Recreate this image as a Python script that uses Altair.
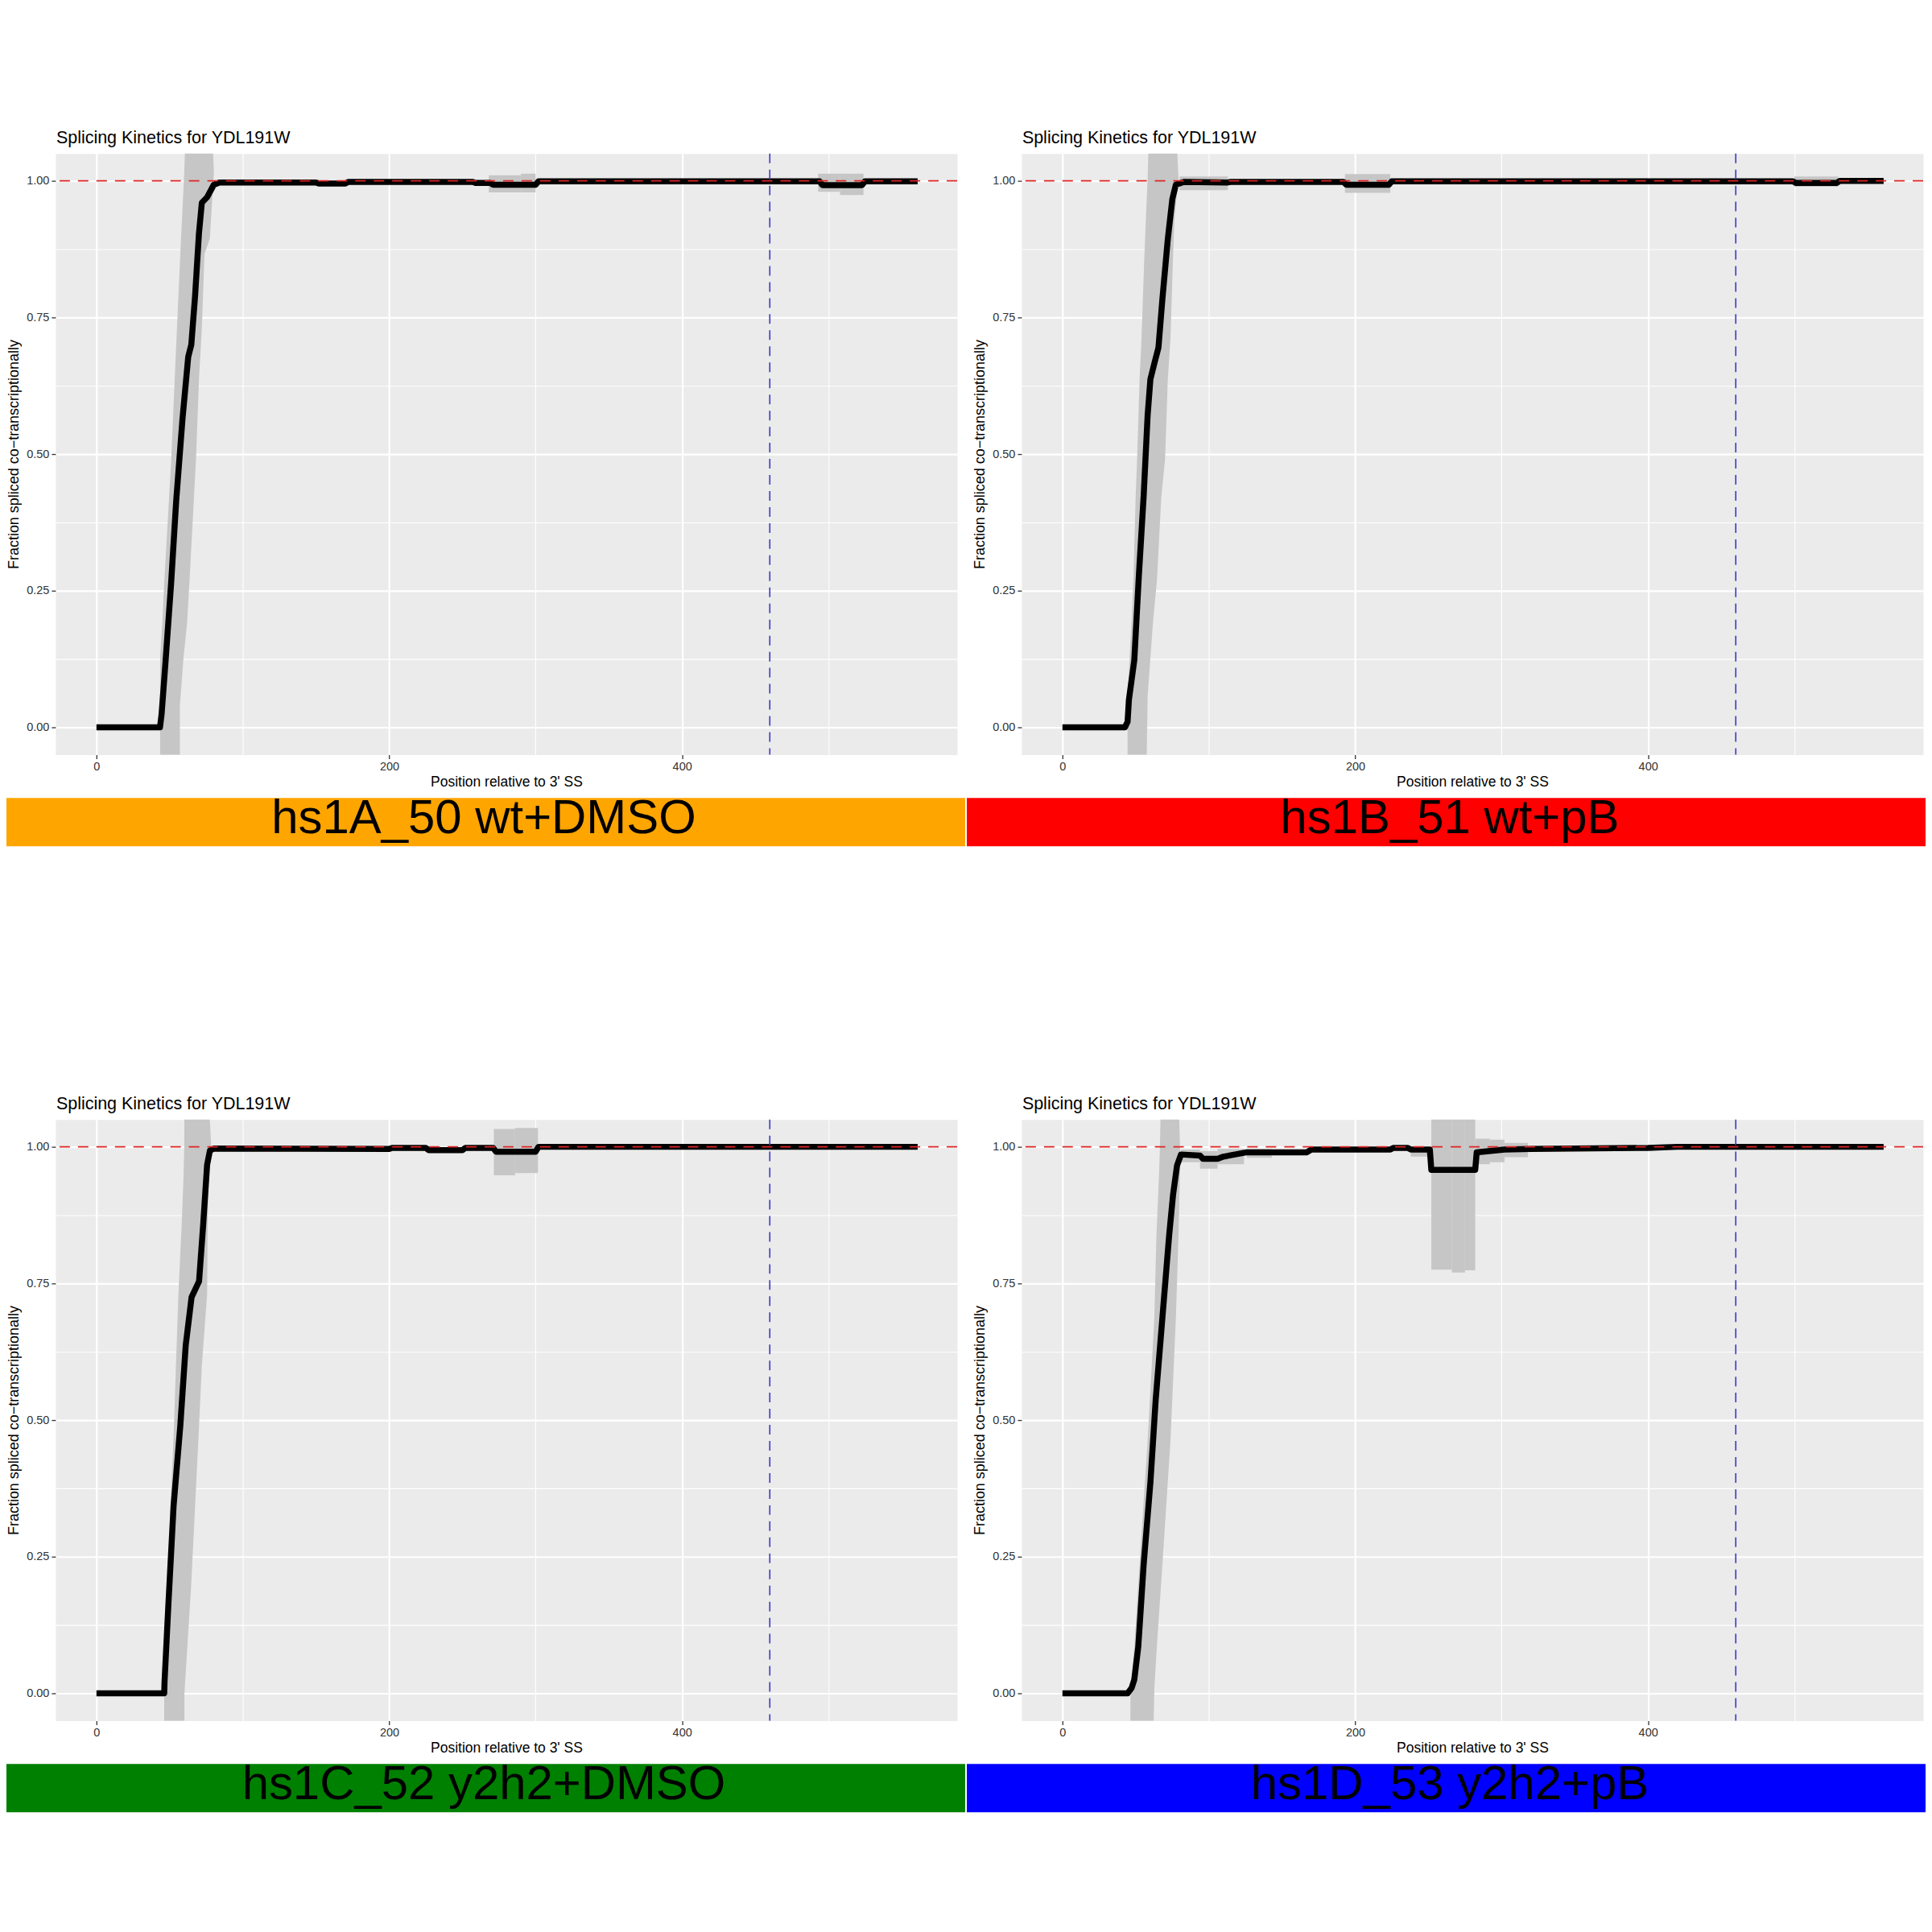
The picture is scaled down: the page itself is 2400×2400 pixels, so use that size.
import altair as alt
import pandas as pd

FONT = "Liberation Sans"
TITLE = "Splicing Kinetics for YDL191W"
X_TITLE = "Position relative to 3' SS"
Y_TITLE = "Fraction spliced co\u2212transcriptionally"

X_DOMAIN = [-28, 588]
Y_DOMAIN = [-0.05, 1.05]
X_GRID = [0, 100, 200, 300, 400, 500]
Y_GRID = [0, 0.125, 0.25, 0.375, 0.5, 0.625, 0.75, 0.875, 1.0]
REF_Y = 1.0
REF_X = 460

labels = ["hs1A_50 wt+DMSO", "hs1B_51 wt+pB", "hs1C_52 y2h2+DMSO", "hs1D_53 y2h2+pB"]
band_colors = ["#FFA500", "#FF0000", "#008000", "#0000FF"]

# ---------------- Panel A ----------------
a_line_x = [0, 43.4, 44.5, 47, 51, 54.5, 58.8, 62.7, 64.8, 67.4, 70, 72, 75.6, 80.2, 84,
            150, 152, 170, 172, 257, 259, 269, 271, 300, 302, 494, 496, 523, 525, 561]
a_line_y = [0, 0, 0.024, 0.113, 0.263, 0.415, 0.565, 0.678, 0.70, 0.79, 0.903, 0.96, 0.97, 0.993, 0.997,
            0.997, 0.995, 0.995, 0.998, 0.998, 0.996, 0.996, 0.993, 0.993, 0.999, 0.999, 0.992, 0.992, 0.999, 0.999]
a_rise_y = [-0.1, 0.04, 0.128, 0.19, 0.264, 0.415, 0.49, 0.64, 0.73, 0.866, 0.895, 1.016, 1.1]
a_rise_lo = [43.5, 43.5, 43.5, 45, 46.3, 49.5, 51.1, 53.5, 55, 57.3, 57.8, 60, 61]
a_rise_hi = [57, 57, 59.5, 61.9, 63.5, 66.5, 68, 70.1, 72, 73.8, 77.5, 80.2, 79]
a_rb_x1 = [268, 290, 493, 508]
a_rb_x2 = [290, 300, 508, 524]
a_rb_lo = [0.979, 0.979, 0.980, 0.974]
a_rb_hi = [1.010, 1.013, 1.013, 1.013]

# ---------------- Panel B ----------------
b_line_x = [0, 42.7, 44.5, 45.4, 49.1, 52.2, 55.5, 58.2, 60.1, 62.8, 65.6, 68.3, 72, 75.1, 77.5, 83,
            113, 115, 192, 194, 223, 225, 499, 501, 529, 531, 561]
b_line_y = [0, 0, 0.01, 0.05, 0.123, 0.277, 0.424, 0.571, 0.637, 0.666, 0.695, 0.784, 0.894, 0.967, 0.993, 0.998,
            0.997, 0.998, 0.998, 0.993, 0.993, 0.999, 0.999, 0.996, 0.996, 1.0, 1.0]
b_rise_y = [-0.1, 0.057, 0.197, 0.27, 0.42, 0.49, 0.637, 0.71, 0.857, 0.93, 1.004, 1.1]
b_rise_lo = [44.5, 44.5, 47.3, 48.5, 50, 51, 52.7, 54, 55.9, 57, 58.2, 59.2]
b_rise_hi = [57.3, 58.2, 62, 64.6, 67.5, 70.1, 72, 73.8, 75.5, 76.5, 79.3, 77.5]
b_rb_x1 = [80, 193, 500]
b_rb_x2 = [113, 224, 530]
b_rb_lo = [0.983, 0.978, 0.989]
b_rb_hi = [1.008, 1.0125, 1.008]

# ---------------- Panel C ----------------
c_line_x = [0, 46.3, 46.5, 49.1, 52.7, 57.3, 61, 65, 70.1, 72.9, 75.6, 77.5, 80.2,
            200, 202, 225, 227, 250, 252, 271, 273, 300, 302, 561]
c_line_y = [0, 0, 0.02, 0.16, 0.343, 0.49, 0.637, 0.725, 0.754, 0.857, 0.967, 0.993, 0.997,
            0.996, 0.998, 0.998, 0.994, 0.994, 0.998, 0.998, 0.991, 0.991, 1.0, 1.0]
c_rise_y = [-0.1, 0.0, 0.197, 0.343, 0.49, 0.6, 0.73, 0.857, 0.93, 1.0, 1.1]
c_rise_lo = [46.3, 46.3, 49.1, 50.6, 53, 54.3, 56, 58.2, 59.3, 60, 60.1]
c_rise_hi = [60.1, 60.1, 64.7, 67.4, 70.1, 72, 75.6, 76, 76.5, 78.4, 76.5]
c_rb_x1 = [271.5, 286]
c_rb_x2 = [286, 301.6]
c_rb_lo = [0.948, 0.952]
c_rb_hi = [1.0325, 1.0345]

# ---------------- Panel D ----------------
d_line_x = [0, 44.5, 47.3, 49.1, 51.8, 55.5, 60.1, 63.7, 68.3, 72.9, 75.6, 78.3, 81, 94, 96, 106, 110, 126,
            167, 170, 224, 226, 236, 238, 251, 252, 282, 283, 302, 320, 400, 420, 561]
d_line_y = [0, 0, 0.01, 0.025, 0.085, 0.236, 0.386, 0.537, 0.6875, 0.838, 0.913, 0.966, 0.986, 0.984, 0.978,
            0.978, 0.982, 0.990, 0.990, 0.995, 0.995, 0.998, 0.998, 0.995, 0.995, 0.958, 0.958, 0.990, 0.995,
            0.996, 0.998, 1.0, 1.0]
d_rise_y = [-0.1, 0.01, 0.085, 0.236, 0.462, 0.6875, 0.838, 0.95, 0.99, 1.1]
d_rise_lo = [46.3, 46.5, 49.1, 52.7, 58.2, 62.8, 64.2, 66, 66.5, 67.4]
d_rise_hi = [61.9, 62.8, 64.5, 68.3, 73.8, 77.5, 79.3, 80.2, 80.4, 79.3]
d_rb_x1 = [81, 94, 106, 126, 238, 252, 266, 275, 282, 292, 302]
d_rb_x2 = [94, 106, 124, 143, 252, 266, 275, 282, 292, 302, 318]
d_rb_lo = [0.972, 0.960, 0.968, 0.980, 0.982, 0.775, 0.770, 0.774, 0.968, 0.972, 0.981]
d_rb_hi = [0.995, 0.992, 0.996, 0.996, 0.997, 1.1, 1.1, 1.1, 1.015, 1.013, 1.007]

PLOT_W = 1122
PLOT_H = 748
RIBBON = "#C6C6C6"


def make_panel(line_x, line_y, rise_y, rise_lo, rise_hi, rb_x1, rb_x2, rb_lo, rb_hi, label, color):
    xs = alt.Scale(domain=X_DOMAIN, nice=False, zero=False)
    ys = alt.Scale(domain=Y_DOMAIN, nice=False, zero=False)
    x_axis = alt.Axis(
        values=X_GRID, format="d",
        labelExpr="datum.value % 200 === 0 ? datum.label : ''",
        domain=False, labelOverlap=False, labelFlush=False,
        tickSize=5, tickWidth=1.3, tickColor="#333333",
        tickOpacity={"condition": {"test": "datum.value % 200 !== 0", "value": 0}, "value": 1},
        gridColor="white",
        gridWidth={"condition": {"test": "datum.value % 200 === 0", "value": 2.2}, "value": 1.1},
        labelFont=FONT, labelFontSize=14.5, labelColor="#333333", labelPadding=3,
        title=X_TITLE, titleFont=FONT, titleFontSize=17.5, titleFontWeight="normal",
        titleColor="black", titleX=PLOT_W / 2, titleY=25, titleBaseline="top",
    )
    y_axis = alt.Axis(
        values=Y_GRID, format=".2f",
        labelExpr="(datum.value * 4) % 1 === 0 ? datum.label : ''",
        domain=False, labelOverlap=False, labelFlush=False,
        tickSize=5, tickWidth=1.3, tickColor="#333333",
        tickOpacity={"condition": {"test": "(datum.value * 4) % 1 !== 0", "value": 0}, "value": 1},
        gridColor="white",
        gridWidth={"condition": {"test": "(datum.value * 4) % 1 === 0", "value": 2.2}, "value": 1.1},
        labelFont=FONT, labelFontSize=14.5, labelColor="#333333", labelPadding=3,
        title=Y_TITLE, titleFont=FONT, titleFontSize=18, titleFontWeight="normal",
        titleColor="black", titleAngle=270, titleX=-51, titleY=PLOT_H / 2,
        titleBaseline="middle", titleAlign="center",
    )

    line_df = pd.DataFrame({"x": line_x, "y": line_y, "i": list(range(len(line_x)))})
    rise_df = pd.DataFrame({"y": rise_y, "lo": rise_lo, "hi": rise_hi})
    rb_df = pd.DataFrame({"x1": rb_x1, "x2": rb_x2, "lo": rb_lo, "hi": rb_hi})

    rise = alt.Chart(rise_df).mark_area(orient="horizontal", color=RIBBON, clip=True).encode(
        y=alt.Y("y:Q", scale=ys, axis=y_axis),
        x=alt.X("lo:Q", scale=xs, axis=x_axis),
        x2="hi:Q",
    )
    plateau = alt.Chart(rb_df).mark_rect(color=RIBBON, clip=True).encode(
        x=alt.X("x1:Q", scale=xs, axis=x_axis),
        x2="x2:Q",
        y=alt.Y("lo:Q", scale=ys, axis=y_axis),
        y2="hi:Q",
    )
    line = alt.Chart(line_df).mark_line(color="black", strokeWidth=7.5, clip=True,
                                        strokeJoin="round", strokeCap="butt").encode(
        x=alt.X("x:Q", scale=xs, axis=x_axis),
        y=alt.Y("y:Q", scale=ys, axis=y_axis),
        order="i:Q",
    )
    hline = alt.Chart(pd.DataFrame({"v": [REF_Y]})).mark_rule(
        color="#E02424", strokeWidth=1.8, strokeDash=[13, 10]).encode(
        y=alt.Y("v:Q", scale=ys, axis=y_axis))
    vline = alt.Chart(pd.DataFrame({"v": [REF_X]})).mark_rule(
        color="#3838C8", strokeWidth=1.6, strokeDash=[12, 8]).encode(
        x=alt.X("v:Q", scale=xs, axis=x_axis))

    title = alt.Chart(pd.DataFrame({"t": [TITLE]})).mark_text(
        align="left", baseline="alphabetic", font=FONT, fontSize=21.5, color="black").encode(
        x=alt.value(1), y=alt.value(-13), text="t:N")
    band = alt.Chart(pd.DataFrame({"c": [color]})).mark_rect(color=color).encode(
        x=alt.value(-68), x2=alt.value(1132), y=alt.value(802), y2=alt.value(862))
    band_text = alt.Chart(pd.DataFrame({"label": [label]})).mark_text(
        align="center", baseline="alphabetic", font=FONT, fontSize=60, color="black").encode(
        x=alt.value(533), y=alt.value(846), text="label:N")
    frame = alt.Chart(pd.DataFrame({"d": [0]})).mark_rect(opacity=0).encode(
        x=alt.value(-68), x2=alt.value(1132), y=alt.value(-188), y2=alt.value(1012))

    return alt.layer(rise, plateau, line, hline, vline, title, band, band_text, frame).properties(
        width=PLOT_W, height=PLOT_H)


pA = make_panel(a_line_x, a_line_y, a_rise_y, a_rise_lo, a_rise_hi, a_rb_x1, a_rb_x2, a_rb_lo, a_rb_hi,
                labels[0], band_colors[0])
pB = make_panel(b_line_x, b_line_y, b_rise_y, b_rise_lo, b_rise_hi, b_rb_x1, b_rb_x2, b_rb_lo, b_rb_hi,
                labels[1], band_colors[1])
pC = make_panel(c_line_x, c_line_y, c_rise_y, c_rise_lo, c_rise_hi, c_rb_x1, c_rb_x2, c_rb_lo, c_rb_hi,
                labels[2], band_colors[2])
pD = make_panel(d_line_x, d_line_y, d_rise_y, d_rise_lo, d_rise_hi, d_rb_x1, d_rb_x2, d_rb_lo, d_rb_hi,
                labels[3], band_colors[3])

base = alt.vconcat(
    alt.hconcat(pA, pB, spacing=0),
    alt.hconcat(pC, pD, spacing=0),
    spacing=0,
).configure(
    font=FONT, background="white",
    view=alt.ViewConfig(fill="#EBEBEB", stroke="transparent"),
)

try:
    chart = base.properties(padding={"left": -8, "top": -8, "right": -8, "bottom": -8})
    chart.save("out.html", embed_options={"renderer": "svg", "actions": False})
except Exception:
    chart = base.properties(padding=0)
    chart.save("out.html", embed_options={"renderer": "svg", "actions": False})
